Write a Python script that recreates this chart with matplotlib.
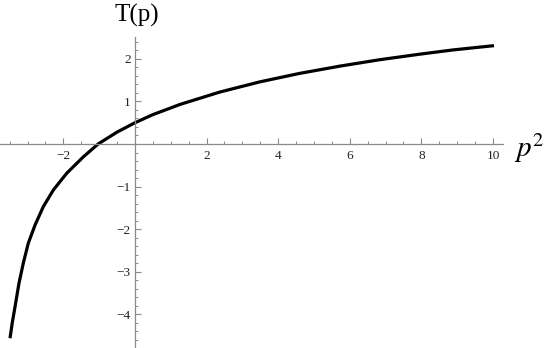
import numpy as np
import matplotlib

matplotlib.use("Agg")
import matplotlib.pyplot as plt
from matplotlib.ticker import MultipleLocator, FixedLocator

# points (p^2, T(p))
p2 = [-3.49, -3.43, -3.35, -3.24, -3.12, -2.98, -2.79, -2.56, -2.28, -1.91,
      -1.44, -1.03, -0.50, 0.00, 0.50, 1.26, 2.37, 3.49, 4.61, 5.73,
      6.84, 7.96, 8.89, 10.03]
T = [-4.56, -4.21, -3.82, -3.27, -2.80, -2.33, -1.90, -1.47, -1.08, -0.69,
     -0.30, 0.00, 0.28, 0.50, 0.69, 0.93, 1.22, 1.46, 1.66, 1.83,
     1.98, 2.11, 2.21, 2.31]

x_major = [-2, 2, 4, 6, 8, 10]
y_major = [-4, -3, -2, -1, 1, 2]

plt.rcParams["font.family"] = ["Liberation Serif", "DejaVu Serif"]
plt.rcParams["mathtext.fontset"] = "stix"

fig = plt.figure(figsize=(5.45, 3.48), dpi=100)
ax = fig.add_axes([0.0, 0.0, 503 / 545, 311.3 / 348])

ax.plot(p2, T, color="black", lw=2.3, solid_capstyle="butt", solid_joinstyle="round")

ax.set_xlim(-3.77, 10.28)
ax.set_ylim(-4.79, 2.52)

for s in ("top", "right"):
    ax.spines[s].set_visible(False)
ax.spines["left"].set_position(("data", 0))
ax.spines["bottom"].set_position(("data", 0))
for s in ("left", "bottom"):
    ax.spines[s].set_color("#8a8a8a")
    ax.spines[s].set_linewidth(0.9)

ax.xaxis.set_major_locator(FixedLocator(x_major))
ax.xaxis.set_minor_locator(MultipleLocator(0.5))
ax.yaxis.set_major_locator(FixedLocator(y_major))
ax.yaxis.set_minor_locator(MultipleLocator(0.2))
ax.set_xticklabels([str(v).replace("-", "\u2212") for v in x_major])
ax.set_yticklabels([str(v).replace("-", "\u2212") for v in y_major])

ax.tick_params(axis="both", which="both", direction="in", color="#8a8a8a",
               labelsize=9.5, labelcolor="#222222")
ax.tick_params(axis="both", which="major", length=4.5, width=0.8)
ax.tick_params(axis="both", which="minor", length=2.5, width=0.7)
ax.tick_params(axis="x", which="major", pad=4)
ax.tick_params(axis="y", which="major", pad=3)
ax.patch.set_alpha(0)

fig.text(137 / 545, 1 - 15 / 348, "T(p)", fontsize=18, ha="center", va="center")
fig.text(514 / 545, 1 - 148 / 348, "$p^2$", fontsize=21, ha="left", va="center")

fig.savefig("out.png", dpi=100)
